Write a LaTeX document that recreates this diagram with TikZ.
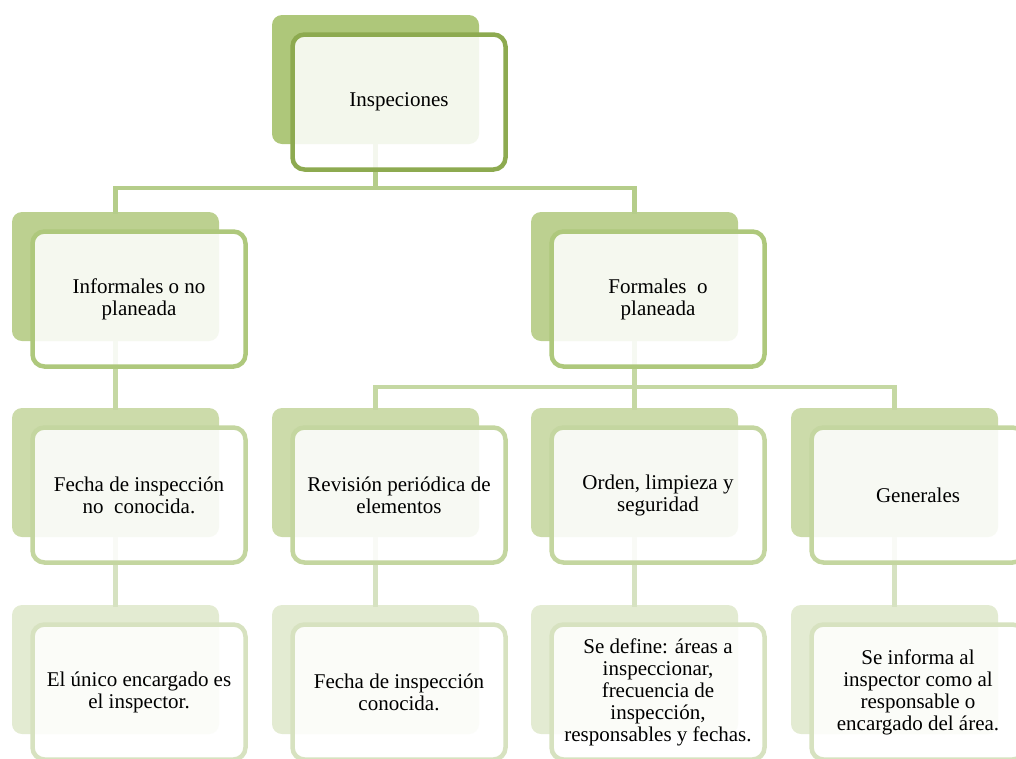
\documentclass[tikz,border=0pt]{standalone}
\usepackage{fontspec}
\setmainfont{Liberation Serif}
\definecolor{backA}{HTML}{AEC77A}
\definecolor{lineA}{HTML}{8DAA50}
\definecolor{backB}{HTML}{BCD090}
\definecolor{lineB}{HTML}{AEC87C}
\definecolor{backC}{HTML}{CCDBAA}
\definecolor{lineC}{HTML}{C4D6A0}
\definecolor{backD}{HTML}{E3EBD2}
\definecolor{lineD}{HTML}{D7E2C0}
\definecolor{connA}{HTML}{B5CD8A}
\definecolor{connB}{HTML}{C5D8A3}
\definecolor{connC}{HTML}{D6E2C1}
\tikzset{
  backbox/.style={anchor=north west, rectangle, rounded corners=10pt, minimum width=207pt, minimum height=129pt, inner sep=0pt, outer sep=0pt, fill=#1},
  frontbox/.style={anchor=north west, rectangle, rounded corners=12pt, minimum width=213pt, minimum height=135pt, inner sep=0pt, outer sep=0pt, draw=#1, line width=4.5pt, fill=white, fill opacity=0.86, text opacity=1, align=center, font=\fontsize{21}{22}\selectfont},
  conn/.style={draw=#1, line width=4.5pt}
}
\begin{document}
\begin{tikzpicture}[x=1pt,y=-1pt]
\useasboundingbox (0,0) rectangle (1016,758);
\clip (0,0) rectangle (1016,758);
% back boxes
\node[backbox=backA] (b0) at (272,15) {};
\node[backbox=backB] (b1) at (12,212) {};
\node[backbox=backB] (b2) at (531,212) {};
\node[backbox=backC] (c1) at (12,408) {};
\node[backbox=backC] (c2) at (272,408) {};
\node[backbox=backC] (c3) at (531,408) {};
\node[backbox=backC] (c4) at (791,408) {};
\node[backbox=backD] (d1) at (12,605) {};
\node[backbox=backD] (d2) at (272,605) {};
\node[backbox=backD] (d3) at (531,605) {};
\node[backbox=backD] (d4) at (791,605) {};
% connectors
\coordinate (j0) at ([yshift=-44pt]b0.south);
\draw[conn=connA] (b0.south) -- (j0);
\draw[conn=connA] (j0) -| ([yshift=-2pt]b1.north);
\draw[conn=connA] (j0) -| ([yshift=-2pt]b2.north);
\draw[conn=connB] (b1.south) -- ([yshift=-2pt]c1.north);
\coordinate (j2) at ([yshift=-46pt]b2.south);
\draw[conn=connB] (b2.south) -- (j2);
\draw[conn=connB] (j2) -| ([yshift=-2pt]c2.north);
\draw[conn=connB] (j2) -| ([yshift=-2pt]c4.north);
\draw[conn=connB] (j2) -- ([yshift=-2pt]c3.north);
\draw[conn=connC] (c1.south) -- ([yshift=-2pt]d1.north);
\draw[conn=connC] (c2.south) -- ([yshift=-2pt]d2.north);
\draw[conn=connC] (c3.south) -- ([yshift=-2pt]d3.north);
\draw[conn=connC] (c4.south) -- ([yshift=-2pt]d4.north);
% front boxes
\node[frontbox=lineA] (f0) at (292.5,34.5) {Inspeciones};
\node[frontbox=lineB] (g1) at (32.5,231.5) {Informales o no\\planeada};
\node[frontbox=lineB] (g2) at (551.5,231.5) {Formales\ \ o\\planeada};
\node[frontbox=lineC] (h1) at (32.5,427.5) {Fecha de inspección\\no\ \ conocida.};
\node[frontbox=lineC] (h2) at (292.5,427.5) {Revisión periódica de\\elementos};
\node[frontbox=lineC] (h3) at (551.5,427.5) {Orden, limpieza y\\seguridad};
\node[frontbox=lineC] (h4) at (811.5,427.5) {Generales};
\node[frontbox=lineD] (k1) at (32.5,624.5) {El único encargado es\\el inspector.};
\node[frontbox=lineD] (k2) at (292.5,624.5) {Fecha de inspección\\conocida.};
\node[frontbox=lineD] (k3) at (551.5,624.5) {Se define: áreas a\\inspeccionar,\\frecuencia de\\inspección,\\responsables y fechas.};
\node[frontbox=lineD] (k4) at (811.5,624.5) {Se informa al\\inspector como al\\responsable o\\encargado del área.};
\end{tikzpicture}
\end{document}
